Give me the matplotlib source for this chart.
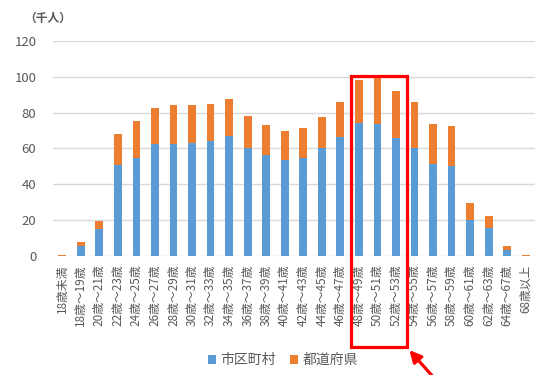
import matplotlib
matplotlib.use("Agg")
import matplotlib.pyplot as plt
from matplotlib.patches import Rectangle
import numpy as np

plt.rcParams['font.family'] = ['Noto Sans CJK JP', 'DejaVu Sans']

# Age brackets
categories = ["18歳未満", "18歳～19歳", "20歳～21歳", "22歳～23歳", "24歳～25歳",
              "26歳～27歳", "28歳～29歳", "30歳～31歳", "32歳～33歳", "34歳～35歳",
              "36歳～37歳", "38歳～39歳", "40歳～41歳", "42歳～43歳", "44歳～45歳",
              "46歳～47歳", "48歳～49歳", "50歳～51歳", "52歳～53歳", "54歳～55歳",
              "56歳～57歳", "58歳～59歳", "60歳～61歳", "62歳～63歳", "64歳～67歳",
              "68歳以上"]

# Staff counts (thousands)
municipal = [0.2, 5.8, 15.1, 50.6, 54.5, 62.7, 62.5, 62.9, 64.2, 67.2,
             60.5, 56.2, 53.4, 54.9, 60.3, 66.2, 74.2, 73.9, 66.0, 60.5,
             51.5, 50.0, 20.1, 15.4, 3.2, 0.2]
prefectural = [0.1, 2.2, 4.6, 17.5, 21.0, 20.1, 21.8, 21.4, 20.5, 20.2,
               17.6, 16.9, 16.2, 16.4, 17.3, 19.6, 24.0, 25.6, 25.9, 25.6,
               22.0, 22.4, 9.3, 6.7, 2.4, 0.1]

highlight = ["48歳～49歳", "50歳～51歳", "52歳～53歳"]

blue = "#5B9BD5"
orange = "#ED7D31"
text_gray = "#595959"

fig = plt.figure(figsize=(5.42, 3.75), dpi=100)
ax = fig.add_axes([0.0978, 0.3173, 0.8893, 0.5734])

x = np.arange(len(categories))
w = 0.42
ax.bar(x, municipal, width=w, color=blue, label="市区町村", zorder=3)
ax.bar(x, prefectural, width=w, bottom=municipal, color=orange, label="都道府県", zorder=3)

ax.set_xlim(-0.5, len(categories) - 0.5)
ax.set_ylim(0, 120)
ax.set_yticks(np.arange(0, 121, 20))
ax.yaxis.grid(True, color="#D9D9D9", linewidth=1.0, zorder=0)
ax.set_axisbelow(True)
for s in ax.spines.values():
    s.set_visible(False)
ax.tick_params(axis='both', length=0, colors=text_gray)
ax.tick_params(axis='y', labelsize=9.5, pad=12)
ax.set_xticks(x)
ax.set_xticklabels(categories, rotation=90, fontsize=8.5, color=text_gray, va='top', ha='center')
ax.tick_params(axis='x', pad=6)

fig.text(0.045, 0.952, "（千人）", fontsize=8.5, fontweight='bold', color=text_gray,
         ha='left', va='center')

# Highlight box around the peak brackets, plus pointer arrow
i0 = categories.index(highlight[0])
i1 = categories.index(highlight[-1])
box_left = i0 - 0.43
box_right = i1 + 0.62
box = Rectangle((box_left, -50.5), box_right - box_left, 100.5 + 50.5,
                fill=False, edgecolor="red", linewidth=2.3, clip_on=False, zorder=5)
ax.add_patch(box)
ax.annotate("", xy=(box_right + 0.1, -52.5), xytext=(box_right + 1.6, -70),
            arrowprops=dict(arrowstyle="-|>,head_length=0.7,head_width=0.35",
                            color="red", linewidth=2.3, shrinkA=0, shrinkB=0),
            annotation_clip=False)

fig.legend(loc='center', bbox_to_anchor=(0.522, 0.04), ncol=2, frameon=False,
           fontsize=10, labelcolor=text_gray, handlelength=0.6, handleheight=0.6,
           handletextpad=0.3, columnspacing=1.0)

fig.savefig("out.png", dpi=100)
